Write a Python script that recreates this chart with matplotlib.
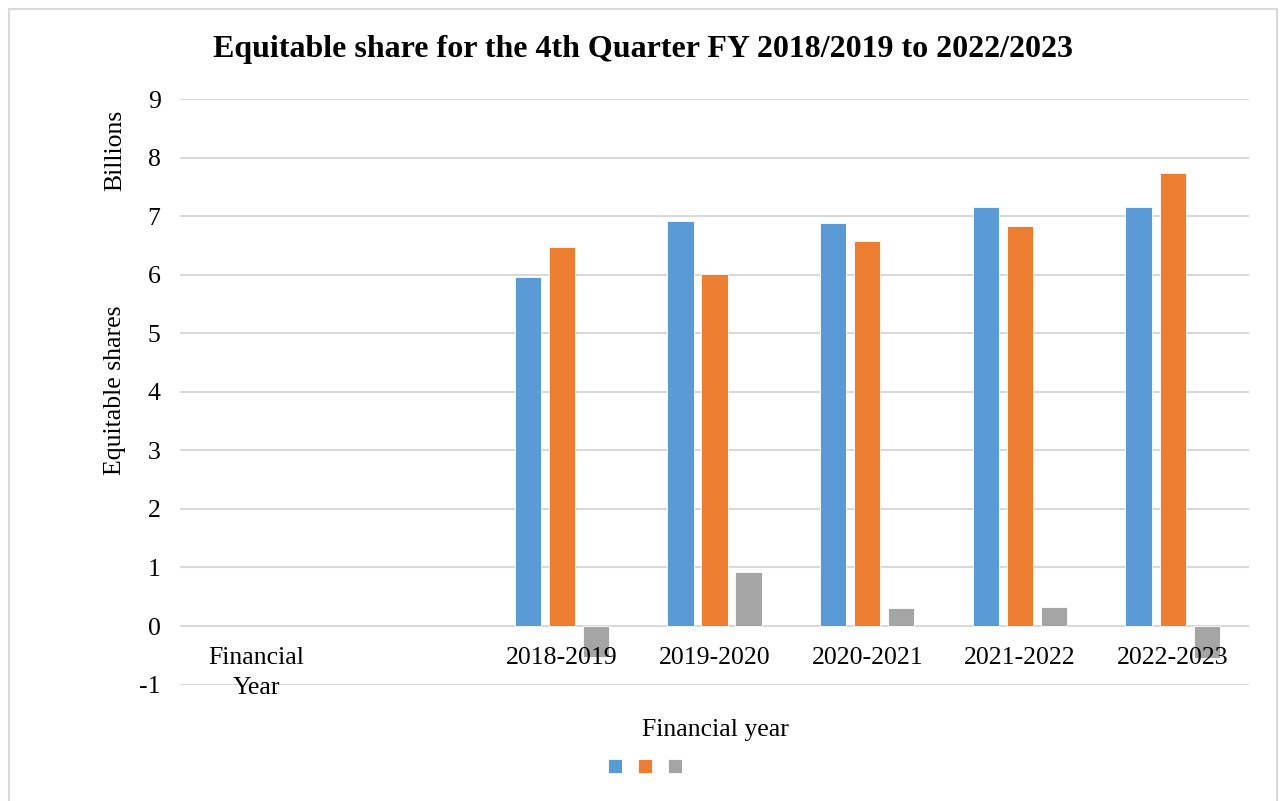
import matplotlib.pyplot as plt
import numpy as np
from matplotlib.patches import Rectangle

plt.rcParams['font.family'] = ['Liberation Serif', 'DejaVu Serif']
plt.rcParams['axes.unicode_minus'] = False

categories = ['Financial\nYear', '', '2018-2019', '2019-2020', '2020-2021', '2021-2022', '2022-2023']
series_blue = [np.nan, np.nan, 5.96, 6.92, 6.89, 7.16, 7.16]
series_orange = [np.nan, np.nan, 6.48, 6.01, 6.57, 6.83, 7.74]
series_gray = [np.nan, np.nan, -0.53, 0.92, 0.31, 0.32, -0.55]
colors = ['#5B9BD5', '#ED7D31', '#A5A5A5']
yticks = list(range(-1, 10))

fig = plt.figure(figsize=(12.8, 8.01), dpi=100)
ax = fig.add_axes([180 / 1280, 1 - 684.6 / 801, (1249 - 180) / 1280, (684.6 - 99) / 801])

# gridlines drawn as lines so bars sit above them and tick labels above bars
for t in yticks:
    ax.axhline(t, color='#d9d9d9', linewidth=1.5, zorder=0.5)

x = np.arange(len(categories))
w = 0.172
step = 0.223
handles = []
for i, (vals, c) in enumerate(zip([series_blue, series_orange, series_gray], colors)):
    b = ax.bar(x + (i - 1) * step, vals, width=w, color=c, edgecolor='white', linewidth=0.6, zorder=1)
    handles.append(b)

ax.set_xlim(-0.5, len(categories) - 0.5)
ax.set_ylim(-1, 9)
ax.set_yticks(yticks)
for s in ax.spines.values():
    s.set_visible(False)
ax.spines['bottom'].set_position(('data', 0))
ax.set_xticks(x)
ax.set_xticklabels(categories, fontsize=18.5, linespacing=1.45)
ax.tick_params(axis='both', length=0, labelsize=18.5)
ax.tick_params(axis='x', pad=15)
ax.tick_params(axis='y', pad=14)

fig.text(715 / 1280, 1 - 730 / 801, 'Financial year', ha='center', va='center', fontsize=18.5)
fig.text(115 / 1280, 1 - 390 / 801, 'Equitable shares', ha='center', va='center', rotation=90, fontsize=18.5)
fig.text(115 / 1280, 1 - 150 / 801, 'Billions', ha='center', va='center', rotation=90, fontsize=18.5)
fig.text(643 / 1280, 1 - 49 / 801, 'Equitable share for the 4th Quarter FY 2018/2019 to 2022/2023',
         ha='center', va='center', fontsize=23, fontweight='bold')

fig.legend(handles, ['', '', ''], loc='center', bbox_to_anchor=(645 / 1280, 1 - 768 / 801),
           ncol=3, frameon=False, handlelength=0.72, handleheight=0.72, columnspacing=0.83,
           handletextpad=0.0, fontsize=14)

fig.patches.append(Rectangle((8.5 / 1280, -0.05), (1277 - 8.5) / 1280, 1.05 - 9.5 / 801,
                             transform=fig.transFigure, fill=False, edgecolor='#d9d9d9', linewidth=1.5))

fig.savefig('out.png', dpi=100)
